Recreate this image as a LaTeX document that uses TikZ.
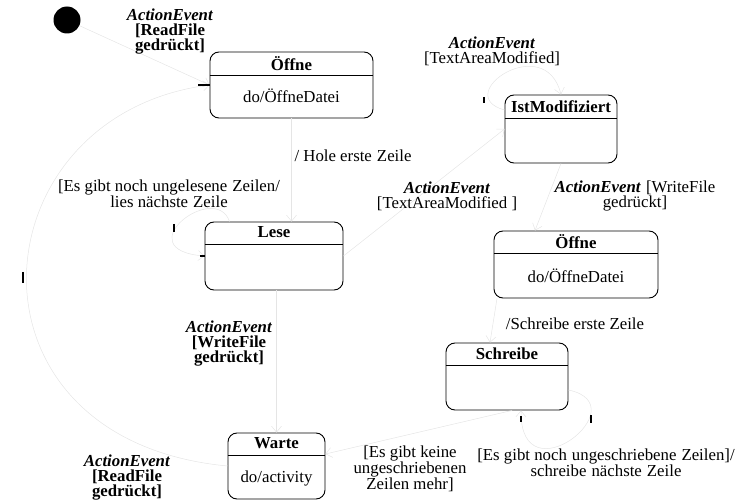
\documentclass[tikz,border=0pt]{standalone}
\usepackage{fontspec}
\setmainfont{Liberation Serif}
\usetikzlibrary{arrows.meta,calc}
\newcommand\wsp{\hspace{0.3em}}
\begin{document}
\begin{tikzpicture}[x=1pt,y=-1pt,
  every node/.style={font=\fontsize{16.8}{15}\selectfont},
  umlstate/.style={draw=black,line width=0.9pt,rounded corners=9pt,inner sep=0pt},
  divider/.style={draw=black,line width=0.9pt},
  titletext/.style={font=\fontsize{16.8}{15}\selectfont\bfseries,inner sep=0pt},
  bodytext/.style={inner sep=0pt},
  lbl/.style={align=center,inner sep=0pt},
  trans/.style={draw=black!10,line width=0.5pt,-{Straight Barb[length=6pt,width=10pt]}},
  tick/.style={draw=black,line width=1.1pt}]
\useasboundingbox (0,0) rectangle (740,500);

% initial pseudo-state
\node[circle,fill=black,minimum size=27pt,inner sep=0pt] (start) at (67,20) {};

% states
\node[umlstate,minimum width=163pt,minimum height=66pt] (oeffneA) at (291.5,85) {};
\draw[divider] (oeffneA.west |- 0,75) -- (oeffneA.east |- 0,75);
\node[titletext] (oeffneAt) at (291.5,63.5) {Öffne};
\node[bodytext] (oeffneAb) at (291.5,96) {do/ÖffneDatei};

\node[umlstate,minimum width=112pt,minimum height=68pt] (istmod) at (561,129) {};
\draw[divider] (istmod.west |- 0,118) -- (istmod.east |- 0,118);
\node[titletext] (istmodt) at (561,106.5) {IstModifiziert};

\node[umlstate,minimum width=138pt,minimum height=68pt] (lese) at (274,256) {};
\draw[divider] (lese.west |- 0,244) -- (lese.east |- 0,244);
\node[titletext] (leset) at (274,232.5) {Lese};

\node[umlstate,minimum width=164pt,minimum height=67pt] (oeffneB) at (576,264.5) {};
\draw[divider] (oeffneB.west |- 0,253) -- (oeffneB.east |- 0,253);
\node[titletext] (oeffneBt) at (576,241.5) {Öffne};
\node[bodytext] (oeffneBb) at (576,276) {do/ÖffneDatei};

\node[umlstate,minimum width=122pt,minimum height=67pt] (schreibe) at (507,376.5) {};
\draw[divider] (schreibe.west |- 0,365) -- (schreibe.east |- 0,365);
\node[titletext] (schreibet) at (507,354) {Schreibe};

\node[umlstate,minimum width=97pt,minimum height=66pt] (warte) at (276.5,466) {};
\draw[divider] (warte.west |- 0,455) -- (warte.east |- 0,455);
\node[titletext] (wartet) at (276.5,443.5) {Warte};
\node[bodytext] (warteb) at (276.5,478) {do/activity};

% transitions
\draw[trans] (start) -- (oeffneA.west);
\draw[trans] (warte.west) .. controls (-50,440) and (-25,115) .. (oeffneA.west);
\draw[trans] (oeffneA.south) -- (oeffneA.south |- lese.north);
\draw[trans] ($(lese.north west)+(25,0)$) .. controls (215,180) and (125,250) .. (lese.west);
\draw[trans] (lese.east) -- (istmod.west);
\draw[trans] ($(istmod.west)+(0,-19)$) .. controls (450,95) and (545,30) .. (istmod.north);
\draw[trans] (istmod.south) -- ($(oeffneB.north)+(-41,0)$);
\draw[trans] ($(oeffneB.south)+(-79,0)$) -- ($(schreibe.north)+(-17,0)$);
\draw[trans] ($(schreibe.east)+(0,13.5)$) .. controls (640,405) and (520,500) .. ($(schreibe.south)+(14,0)$);
\draw[trans] ($(schreibe.south)+(5,0)$) -- ($(warte.east)+(0,-12)$);
\draw[trans] (warte.north |- lese.south) -- (warte.north);

% small marks on the connectors
\draw[tick] (oeffneA.west) -- ++(-12,0);
\draw[tick] (lese.west) -- ++(-5,0);
\draw[tick] (174,224) -- (174,232);
\draw[tick] (484,97) -- (484,103);
\draw[tick] (23,272) -- (23,283);
\draw[tick] (521,416) -- (521,422);
\draw[tick] (591,415) -- (591,423);

% labels
\node[lbl] (l1) at (170,32) {\textbf{\textit{ActionEvent}}\\ \textbf{[ReadFile}\\ \textbf{gedrückt]}};
\node[lbl] (l2) at (492,51) {\textbf{\textit{ActionEvent}}\\{}[TextAreaModified]};
\node[lbl] (l3) at (353,156) {/ Hole erste\wsp Zeile};
\node[lbl] (l4) at (169,194) {{}[Es gibt noch\wsp ungelesene\wsp Zeilen/\\ lies nächste\wsp Zeile};
\node[lbl] (l5) at (447,196) {\textbf{\textit{ActionEvent}}\\{}[TextAreaModified ]};
\node[lbl] (l6) at (635,196) {\textbf{\textit{ActionEvent}}\wsp [WriteFile\\ gedrückt]};
\node[lbl] (l7) at (575,324) {/Schreibe erste Zeile};
\node[lbl] (l8) at (229,344) {\textbf{\textit{ActionEvent}}\\ \textbf{[WriteFile}\\ \textbf{gedrückt]}};
\node[lbl] (l9) at (606,463) {{}[Es gibt noch\wsp ungeschriebene\wsp Zeilen]/\\ schreibe\wsp nächste\wsp Zeile};
\node[lbl] (l10) at (410,469) {{}[Es gibt keine\\ ungeschriebenen\\ Zeilen mehr]};
\node[lbl] (l11) at (127,478) {\textbf{\textit{ActionEvent}}\\ \textbf{[ReadFile}\\ \textbf{gedrückt]}};
\end{tikzpicture}
\end{document}
